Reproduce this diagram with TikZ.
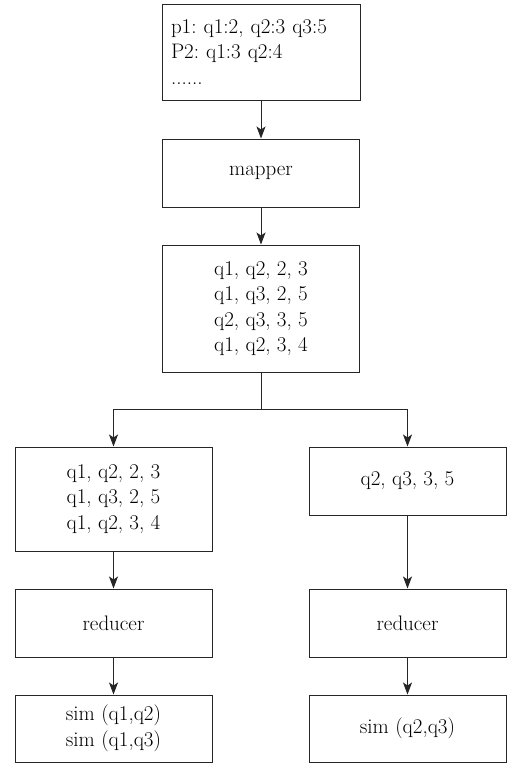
\documentclass[tikz,border=0pt]{standalone}
\usepackage{fontspec}
\usetikzlibrary{arrows.meta}
\frenchspacing

\begin{document}
\begin{tikzpicture}[x=1pt,y=-1pt,
                box/.style={draw=black!85,line width=1pt,minimum width=197pt,align=center,font=\fontsize{21}{25.5}\selectfont},
                link/.style={draw=black!85,line width=1pt,-{Stealth[length=12pt,width=9pt,inset=3pt]}}]
                \useasboundingbox (0,0) rectangle (507,763);
                \node[box,minimum height=96pt,text width=180pt,inner xsep=9pt,align=left] (input) at (261,52) {p1: q1:2, q2:3 q3:5\\P2: q1:3 q2:4\\......};
                \node[box,minimum height=68pt] (mapper) at (261,173) {mapper};
                \node[box,minimum height=127pt] (pairs) at (261,308.5) {q1, q2, 2, 3\\q1, q3, 2, 5\\q2, q3, 3, 5\\q1, q2, 3, 4};
                \node[box,minimum height=104pt] (grpA) at (113.5,499) {q1, q2, 2, 3\\q1, q3, 2, 5\\q1, q2, 3, 4};
                \node[box,minimum height=68pt] (grpB) at (407.5,481) {q2, q3, 3, 5};
                \node[box,minimum height=68pt] (redA) at (113.5,623) {reducer};
                \node[box,minimum height=68pt] (redB) at (407.5,623) {reducer};
                \node[box,minimum height=67pt] (simA) at (113.5,728.5) {sim (q1,q2)\\sim (q1,q3)};
                \node[box,minimum height=67pt] (simB) at (407.5,728.5) {sim (q2,q3)};
                \coordinate (fork) at (261,409);
                \draw[link] (input) -- (mapper);
                \draw[link] (mapper) -- (pairs);
                \draw[draw=black!85,line width=1pt] (pairs) -- (fork);
                \draw[link] (fork) -| (grpA);
                \draw[link] (fork) -| (grpB);
                \draw[link] (grpA) -- (redA);
                \draw[link] (grpB) -- (redB);
                \draw[link] (redA) -- (simA);
                \draw[link] (redB) -- (simB);
            \end{tikzpicture}
\end{document}
